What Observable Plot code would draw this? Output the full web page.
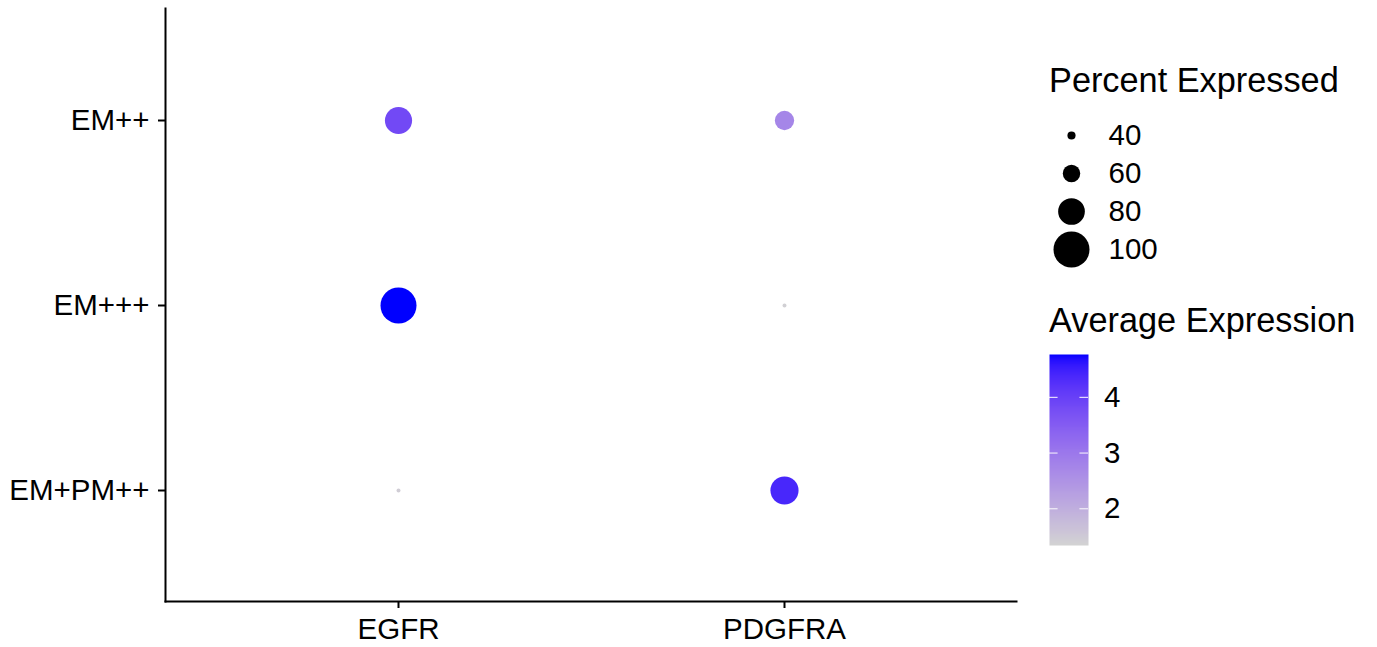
<!DOCTYPE html>
<html>
<head>
<meta charset="utf-8">
<script src="https://cdn.jsdelivr.net/npm/d3@7"></script>
<script src="https://cdn.jsdelivr.net/npm/@observablehq/plot@0.6"></script>
<style>
  html, body { margin: 0; padding: 0; background: #fff; }
  #wrap { position: relative; width: 1377px; height: 647px; font-family: "Liberation Sans", Arial, sans-serif; }
  #main { position: absolute; left: 0; top: 0; }
  #sizeLegend { position: absolute; left: 1040px; top: 60px; width: 337px; }
  #colorLegend { position: absolute; left: 1040px; top: 300px; width: 337px; }
  .ltitle { font-size: 34.3px; color: #000; white-space: nowrap; }
  svg { display: block; }
</style>
</head>
<body>
<div id="wrap">
  <div id="main"></div>
  <div id="sizeLegend"></div>
  <div id="colorLegend"></div>
</div>
<script>
// ---- data ----
const genes = ["EGFR", "PDGFRA"];
const groups = ["EM++", "EM+++", "EM+PM++"];
// percent expressed per group, per gene (EGFR, PDGFRA)
const pctEGFR   = [81, 100, 31];
const pctPDGFRA = [64, 31, 83];
// average expression (scaled) per group, per gene
const avgEGFR   = [3.85, 4.77, 1.45];
const avgPDGFRA = [2.75, 1.4, 4.4];
const sizeBreaks = [40, 60, 80, 100];
const colorBreaks = [2, 3, 4];
const colorDomain = [1.34, 4.77];
const pctDomain = [22.5, 100];

const data = [];
groups.forEach((g, i) => {
  data.push({gene: "EGFR", group: g, pct: pctEGFR[i], avg: avgEGFR[i]});
  data.push({gene: "PDGFRA", group: g, pct: pctPDGFRA[i], avg: avgPDGFRA[i]});
});

const font = "Liberation Sans, Arial, sans-serif";
const FS = 29.5;
const rScale = {type: "linear", domain: pctDomain, range: [0, 18]};
const colorScale = {type: "linear", domain: colorDomain, range: ["#d3d3d3", "#0000ff"], interpolate: d3.interpolateLab};

const main = Plot.plot({
  width: 1030, height: 647,
  marginLeft: 165, marginRight: 14, marginTop: 8, marginBottom: 46,
  style: {fontFamily: font, fontSize: FS + "px", color: "#000", background: "#fff"},
  x: {type: "point", domain: genes, padding: 0.6, label: null},
  y: {type: "point", domain: groups, padding: 0.6, label: null},
  r: rScale,
  color: colorScale,
  marks: [
    Plot.frame({anchor: "left", stroke: "#000", strokeWidth: 2, strokeOpacity: 1}),
    Plot.frame({anchor: "bottom", stroke: "#000", strokeWidth: 2, strokeOpacity: 1}),
    Plot.axisX({tickSize: 7, tickPadding: 10, strokeWidth: 2, fontSize: FS, fill: "#000", label: null}),
    Plot.axisY({tickSize: 7, tickPadding: 9, strokeWidth: 2, fontSize: FS, fill: "#000", label: null}),
    Plot.dot(data, {x: "gene", y: "group", r: "pct", fill: "avg", stroke: null})
  ]
});
document.getElementById("main").appendChild(main);

// ---- size legend ----
const sizeDiv = document.getElementById("sizeLegend");
const st = document.createElement("div");
st.className = "ltitle";
st.textContent = "Percent Expressed";
st.style.height = "40px";
st.style.lineHeight = "40px";
st.style.marginLeft = "9px";
sizeDiv.appendChild(st);
const sizeData = sizeBreaks.map(v => ({v}));
const sizeLeg = Plot.plot({
  width: 200, height: 170,
  marginLeft: 0, marginRight: 0, marginTop: 0, marginBottom: 0,
  style: {fontFamily: font, fontSize: FS + "px", color: "#000", background: "transparent"},
  x: {domain: [0, 200], axis: null},
  y: {type: "point", domain: sizeBreaks, range: [34, 150], padding: 0, axis: null},
  r: rScale,
  marks: [
    Plot.dot(sizeData, {x: () => 31, y: "v", r: "v", fill: "#000", stroke: null}),
    Plot.text(sizeData, {x: () => 68, y: "v", text: d => String(d.v), textAnchor: "start", fontSize: FS, fill: "#000"})
  ]
});
sizeDiv.appendChild(sizeLeg);

// ---- color legend ----
const colDiv = document.getElementById("colorLegend");
const ct = document.createElement("div");
ct.className = "ltitle";
ct.textContent = "Average Expression";
ct.style.height = "40px";
ct.style.lineHeight = "40px";
ct.style.marginLeft = "9px";
colDiv.appendChild(ct);
const colLeg = Plot.plot({
  width: 200, height: 220,
  marginLeft: 9, marginRight: 0, marginTop: 0, marginBottom: 0,
  style: {fontFamily: font, fontSize: FS + "px", color: "#000", background: "transparent"},
  x: {domain: [0, 191 / 39], axis: null},
  y: {type: "linear", domain: colorDomain, range: [205, 14], axis: null},
  color: colorScale,
  marks: [
    Plot.raster({x1: 0, x2: 1, y1: colorDomain[0], y2: colorDomain[1], width: 1, height: 200, fill: (x, y) => y, interpolate: "none", imageRendering: "auto"}),
    Plot.ruleY(colorBreaks, {x1: 0, x2: 0.22, stroke: "#fff", strokeOpacity: 0.8, strokeWidth: 1.2}),
    Plot.ruleY(colorBreaks, {x1: 0.78, x2: 1, stroke: "#fff", strokeOpacity: 0.8, strokeWidth: 1.2}),
    Plot.text(colorBreaks, {x: 1.4, y: d => d, text: d => String(d), textAnchor: "start", fontSize: FS, fill: "#000"})
  ]
});
colDiv.appendChild(colLeg);
</script>
</body>
</html>
